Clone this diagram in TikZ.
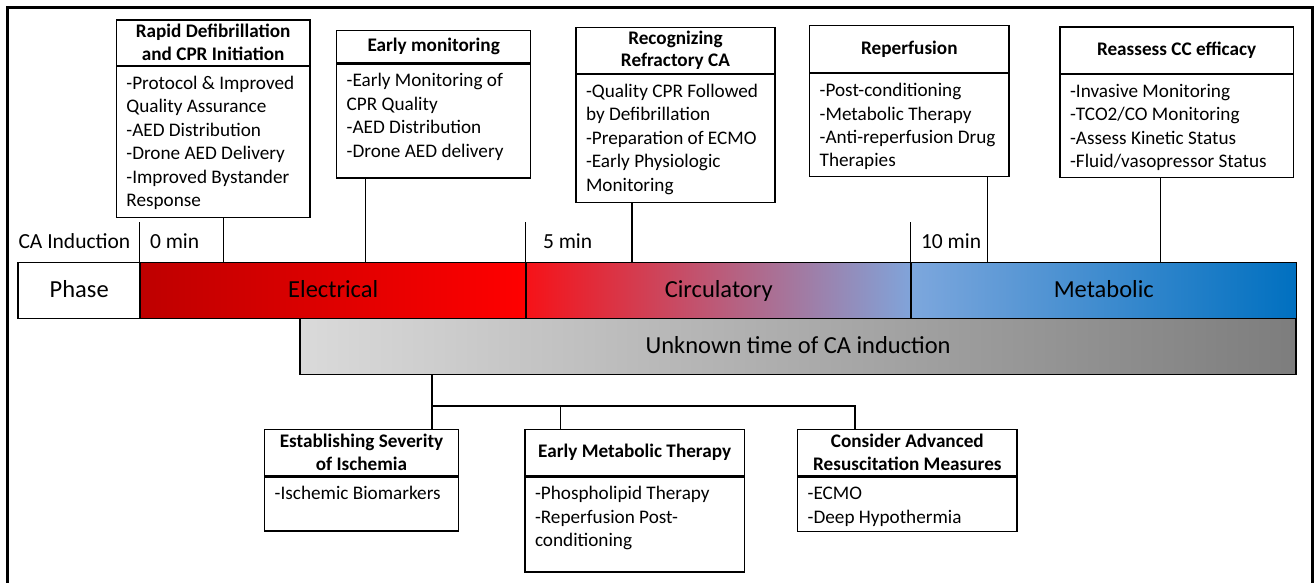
\documentclass[tikz,border=0pt]{standalone}
\usepackage{fontspec}
\setmainfont{Carlito}
\definecolor{elecL}{RGB}{190,0,0}
\definecolor{elecR}{RGB}{255,0,0}
\definecolor{circL}{RGB}{246,18,24}
\definecolor{circM}{RGB}{178,106,142}
\definecolor{circR}{RGB}{128,164,218}
\definecolor{metaL}{RGB}{125,167,221}
\definecolor{metaR}{RGB}{0,112,192}
\definecolor{grayL}{RGB}{218,218,218}
\definecolor{grayR}{RGB}{125,125,125}
\tikzset{
 hbox/.style={draw, line width=1.3pt, inner sep=0pt, anchor=north west, align=center, font=\fontsize{19.2}{22.8}\selectfont\bfseries},
 bbox/.style={draw, line width=1.3pt, inner sep=0pt, anchor=north west},
 btext/.style={inner sep=0pt, anchor=north west, align=left, font=\fontsize{19.2}{23.4}\selectfont},
 phasebar/.style={draw, line width=1.8pt, inner sep=0pt, anchor=north west, minimum height=56pt, text height=18pt, text depth=3pt, font=\fontsize{24.5}{28}\selectfont},
 tlabel/.style={inner sep=0pt, anchor=west, font=\fontsize{21.5}{24}\selectfont},
 conn/.style={line width=1.3pt},
}
\begin{document}
\begin{tikzpicture}[x=1pt,y=-1pt]
\useasboundingbox (0,0) rectangle (1316,582);
% outer frame (open at bottom)
\draw[line width=3pt] (7.5,600) -- (7.5,7.5) -- (1312,7.5) -- (1312,600);

% phase bar
\node[phasebar, minimum width=122pt, fill=white] (phase) at (17.3,261.5) {Phase};
\node[phasebar, minimum width=386pt, left color=elecL, right color=elecR] (elec) at (139.3,261.5) {Electrical};
\node[phasebar, minimum width=385pt, left color=circL, middle color=circM, right color=circR] (circ) at (525.3,261.5) {Circulatory};
\node[phasebar, minimum width=385.2pt, left color=metaL, right color=metaR] (meta) at (910.3,261.5) {Metabolic};
\node[phasebar, minimum width=996.1pt, left color=grayL, right color=grayR] (gray) at (299.2,317.5) {Unknown time of CA induction};

% ticks and labels
\draw[conn] (elec.north west) -- ([yshift=40pt]elec.north west);
\draw[conn] (circ.north west) -- ([yshift=40pt]circ.north west);
\draw[conn] (meta.north west) -- ([yshift=40pt]meta.north west);
\node[tlabel] (lca) at ([shift={(1pt,20pt)}]phase.north west) {CA Induction};
\node[tlabel] (l0) at ([shift={(10.5pt,20pt)}]elec.north west) {0 min};
\node[tlabel] (l5) at ([shift={(17.5pt,20pt)}]circ.north west) {5 min};
\node[tlabel] (l10) at ([shift={(10.5pt,20pt)}]meta.north west) {10 min};

% top box 1
\node[hbox, minimum width=193.6pt, minimum height=45.4pt] (h1) at (115.7,19.3) {Rapid Defibrillation\\and CPR Initiation};
\node[bbox, minimum width=193.6pt, minimum height=150.7pt] (b1) at (h1.south west) {};
\node[btext] (t1) at ([shift={(10.5pt,-7pt)}]b1.north west) {\strut-Protocol \& Improved\\Quality Assurance\\-AED Distribution\\-Drone AED Delivery\\-Improved Bystander\\Response};
% top box 2
\node[hbox, minimum width=194pt, minimum height=32pt] (h2) at (336,30) {Early monitoring};
\node[bbox, minimum width=194pt, minimum height=114pt] (b2) at (h2.south west) {};
\node[btext] (t2) at ([shift={(10.5pt,-7pt)}]b2.north west) {\strut-Early Monitoring of\\CPR Quality\\-AED Distribution\\-Drone AED delivery};
% top box 3
\node[hbox, minimum width=199pt, minimum height=46pt] (h3) at (575.3,26.7) {Recognizing\\Refractory CA};
\node[bbox, minimum width=199pt, minimum height=128pt] (b3) at (h3.south west) {};
\node[btext] (t3) at ([shift={(10.5pt,-7pt)}]b3.north west) {\strut-Quality CPR Followed\\by Defibrillation\\-Preparation of ECMO\\-Early Physiologic\\Monitoring};
% top box 4
\node[hbox, minimum width=199.4pt, minimum height=47.3pt] (h4) at (809,24.5) {Reperfusion};
\node[bbox, minimum width=199.4pt, minimum height=103pt] (b4) at (h4.south west) {};
\node[btext] (t4) at ([shift={(10.5pt,-7pt)}]b4.north west) {\strut-Post-conditioning\\-Metabolic Therapy\\-Anti-reperfusion Drug\\Therapies};
% top box 5
\node[hbox, minimum width=233.1pt, minimum height=46.3pt] (h5) at (1059.4,26.2) {Reassess CC efficacy};
\node[bbox, minimum width=233.1pt, minimum height=103pt] (b5) at (h5.south west) {};
\node[btext] (t5) at ([shift={(10.5pt,-7pt)}]b5.north west) {\strut-Invasive Monitoring\\-TCO2/CO Monitoring\\-Assess Kinetic Status\\-Fluid/vasopressor Status};

% connectors top
\coordinate (c1) at ([xshift=108pt]b1.south west);
\coordinate (c2) at ([xshift=29.7pt]b2.south west);
\coordinate (c3) at ([xshift=56.7pt]b3.south west);
\coordinate (c4) at ([xshift=178.2pt]b4.south west);
\coordinate (c5) at ([xshift=100.9pt]b5.south west);
\draw[conn] (c1) -- (c1 |- elec.north);
\draw[conn] (c2) -- (c2 |- elec.north);
\draw[conn] (c3) -- (c3 |- circ.north);
\draw[conn] (c4) -- (c4 |- meta.north);
\draw[conn] (c5) -- (c5 |- meta.north);

% bottom boxes
\node[hbox, minimum width=193.7pt, minimum height=46.3pt] (h6) at (264,428.7) {Establishing Severity\\of Ischemia};
\node[bbox, minimum width=193.7pt, minimum height=54pt] (b6) at (h6.south west) {};
\node[btext] (t6) at ([shift={(10.5pt,-7pt)}]b6.north west) {\strut-Ischemic Biomarkers};
\node[hbox, minimum width=219.4pt, minimum height=46.3pt] (h7) at (524.3,428.7) {Early Metabolic Therapy};
\node[bbox, minimum width=219.4pt, minimum height=95pt] (b7) at (h7.south west) {};
\node[btext] (t7) at ([shift={(10.5pt,-7pt)}]b7.north west) {\strut-Phospholipid Therapy\\-Reperfusion Post-\\conditioning};
\node[hbox, minimum width=219.4pt, minimum height=46.3pt] (h8) at (797,428.7) {Consider Advanced\\Resuscitation Measures};
\node[bbox, minimum width=219.4pt, minimum height=54.7pt] (b8) at (h8.south west) {};
\node[btext] (t8) at ([shift={(10.5pt,-7pt)}]b8.north west) {\strut-ECMO\\-Deep Hypothermia};

% bottom connectors
\coordinate (g1) at ([xshift=132.8pt]gray.south west);
\coordinate (j) at ([yshift=-30.7pt]g1);
\coordinate (c7) at ([xshift=36.4pt]h7.north west);
\coordinate (c8) at ([xshift=58pt]h8.north west);
\draw[conn] (g1) -- (g1 |- h6.north);
\draw[conn] (j) -- (j -| c8) -- (c8);
\draw[conn] (c7) -- (c7 |- j);
\end{tikzpicture}
\end{document}
